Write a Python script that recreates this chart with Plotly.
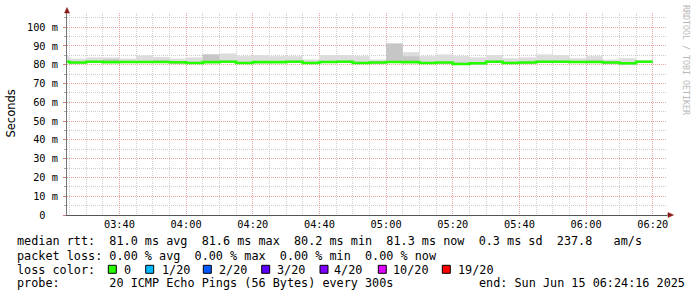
import plotly.graph_objects as go
import pandas as pd

# ---------------- data ----------------
interval_starts = pd.date_range("2025-06-15 03:20:00", periods=36, freq="5min")
data_end = "2025-06-15 06:20:00"
view_start = "2025-06-15 03:24:16"
view_end = "2025-06-15 06:24:16"

median_ms = [81.6, 81.2, 81.6, 81.4, 81.5, 81.5, 81.5, 81.3, 80.9, 81.4,
             81.6, 80.9, 81.4, 81.4, 81.6, 80.9, 81.5, 81.6, 80.9, 81.2,
             81.5, 81.4, 80.9, 81.2, 80.4, 80.8, 81.6, 80.9, 81.2, 81.6,
             81.6, 81.5, 81.5, 81.2, 80.8, 81.6]
smoke_lo_ms = [81.2, 80.8, 81.2, 81.0, 81.1, 81.1, 81.1, 80.9, 80.5, 81.0,
               81.2, 80.5, 81.0, 81.0, 81.2, 80.5, 81.1, 81.2, 80.5, 80.8,
               81.1, 81.0, 80.5, 80.8, 80.0, 80.4, 81.2, 80.5, 80.8, 81.2,
               81.2, 81.1, 81.1, 80.8, 80.4, 81.2]
smoke_hi_ms = [84.5, 83.3, 83.9, 83.9, 83.3, 84.9, 84.2, 83.3, 83.9, 85.5,
               86.0, 84.6, 85.1, 84.6, 84.6, 82.8, 85.1, 85.1, 84.6, 82.8,
               91.3, 86.7, 84.6, 85.5, 84.6, 83.9, 85.1, 83.5, 83.9, 85.5,
               85.1, 83.5, 84.6, 82.8, 83.5, 82.3]
smoke_dark_ms = [82.2, 81.8, 82.2, 83.0, 82.1, 82.1, 82.6, 81.9, 81.6, 85.5,
                 82.5, 81.6, 82.0, 82.0, 82.3, 81.6, 82.1, 82.3, 81.6, 81.8,
                 91.3, 84.5, 81.6, 81.8, 81.2, 81.4, 82.3, 81.6, 81.8, 82.3,
                 82.3, 82.1, 82.6, 81.8, 81.4, 82.2]

y_tick_vals = [0, 10, 20, 30, 40, 50, 60, 70, 80, 90, 100]
y_tick_text = ["0\u00a0\u00a0", "10 m", "20 m", "30 m", "40 m", "50 m",
               "60 m", "70 m", "80 m", "90 m", "100 m"]

stat_line1 = "median rtt:  81.0 ms avg  81.6 ms max  80.2 ms min  81.3 ms now  0.3 ms sd  237.8   am/s"
stat_line2 = "packet loss: 0.00 % avg  0.00 % max  0.00 % min  0.00 % now"
loss_title = "loss color:"
loss_labels = ["0", "1/20", "2/20", "3/20", "4/20", "10/20", "19/20"]
loss_colors = ["#26ff00", "#00b8ff", "#0059ff", "#5e00ff", "#7e00ff", "#dd00ff", "#ff0000"]
probe_text = "probe:       20 ICMP Echo Pings (56 Bytes) every 300s"
end_text = "end: Sun Jun 15 06:24:16 2025"
watermark = "RRDTOOL / TOBI OETIKER"
y_title = "Seconds"

# ---------------- layout geometry (pixels) ----------------
W, H = 697, 297
L, R, T, B = 67, 30, 13, 82
PW, PH = W - L - R, H - T - B

def xp(px):
    return (px - L) / PW

def yp(py):
    return (H - B - py) / PH

MONO = "DejaVu Sans Mono"
SANS = "DejaVu Sans"

fig = go.Figure()

fig.add_trace(go.Bar(
    x=interval_starts, base=smoke_lo_ms,
    y=[h - l for h, l in zip(smoke_hi_ms, smoke_lo_ms)],
    width=300000, offset=0, marker=dict(color="#dcdcdc", line=dict(width=0)),
    hoverinfo="skip"))
fig.add_trace(go.Bar(
    x=interval_starts, base=smoke_lo_ms,
    y=[h - l for h, l in zip(smoke_dark_ms, smoke_lo_ms)],
    width=300000, offset=0, marker=dict(color="#c6c6c6", line=dict(width=0)),
    hoverinfo="skip"))
fig.add_trace(go.Scatter(
    x=list(interval_starts) + [pd.Timestamp(data_end)],
    y=median_ms + [median_ms[-1]],
    mode="lines", line=dict(color="#26ff00", width=2.6, shape="hv"),
    hoverinfo="skip"))

minor_grid = "#cdcdcd"
major_grid = "#e8a4a4"
DOT = "1px,1px"

fig.update_layout(
    width=W, height=H, margin=dict(l=L, r=R, t=T, b=B, pad=0),
    paper_bgcolor="white", plot_bgcolor="white",
    showlegend=False, barmode="overlay",
    xaxis=dict(type="date", range=[view_start, view_end],
               tick0="2025-06-15 03:40:00", dtick=1200000, tickformat="%H:%M",
               showgrid=True, gridcolor=major_grid, griddash=DOT, gridwidth=1,
               minor=dict(tick0="2025-06-15 03:40:00", dtick=300000, showgrid=True,
                          gridcolor=minor_grid, griddash=DOT, gridwidth=1),
               showline=True, linecolor="#555555", linewidth=1,
               ticks="", tickfont=dict(family=MONO, size=10.3, color="#000"),
               zeroline=False, fixedrange=True),
    yaxis=dict(range=[0, PH / 1.878], tickvals=y_tick_vals, ticktext=y_tick_text,
               showgrid=True, gridcolor=major_grid, griddash=DOT, gridwidth=1,
               minor=dict(dtick=5, showgrid=True, gridcolor=minor_grid,
                          griddash=DOT, gridwidth=1, ticks="outside",
                          ticklen=2, tickcolor="#aaa"),
               showline=True, linecolor="#777777", linewidth=1,
               ticks="outside", ticklen=3, tickcolor="#d08080",
               ticklabelstandoff=3,
               tickfont=dict(family=MONO, size=10.3, color="#000"),
               zeroline=False, fixedrange=True),
)

ann = []
ann.append(dict(text=y_title, x=xp(10.5), y=yp(114), textangle=-90,
                xanchor="center", yanchor="middle",
                font=dict(family=SANS, size=11.5, color="#000")))
ann.append(dict(text=watermark, x=xp(686), y=yp(60), textangle=90,
                xanchor="center", yanchor="middle",
                font=dict(family=MONO, size=8.3, color="#b8b8b8")))

def add_text(txt, px, py, size=11.8):
    ann.append(dict(text=txt.replace(" ", "\u00a0"), x=xp(px), y=yp(py),
                    xanchor="left", yanchor="middle",
                    font=dict(family=MONO, size=size, color="#000")))

add_text(stat_line1, 15, 241.5)
add_text(stat_line2, 15, 255.5)
add_text(loss_title, 15, 269.5)
add_text(probe_text, 15, 283)
add_text(end_text, 477, 283)

label_px = [123.3, 160.7, 218.3, 276.0, 333.3, 391.7, 457.3]
box_px = [108.3, 145.7, 203.3, 261.7, 320.0, 378.3, 442.3]
shapes = []
for lab, lx, bx, col in zip(loss_labels, label_px, box_px, loss_colors):
    add_text(lab, lx - 1, 269.5)
    shapes.append(dict(type="rect", xref="paper", yref="paper",
                       x0=xp(bx), x1=xp(bx + 8), y0=yp(273.3), y1=yp(265.3),
                       fillcolor=col, line=dict(color="#000", width=1)))

for a in ann:
    a.setdefault("xref", "paper")
    a.setdefault("yref", "paper")
    a.setdefault("showarrow", False)

# axis extension + arrows
shapes.append(dict(type="line", xref="paper", yref="paper", x0=1, x1=xp(669),
                   y0=0, y1=0, line=dict(color="#555555", width=1)))
shapes.append(dict(type="path", xref="paper", yref="paper",
                   path=f"M {xp(668)} {yp(212.5)} L {xp(673.5)} {yp(215)} L {xp(668)} {yp(217.5)} Z",
                   fillcolor="#8b1a1a", line=dict(color="#8b1a1a", width=0.5)))
shapes.append(dict(type="path", xref="paper", yref="paper",
                   path=f"M {xp(64.5)} {yp(13)} L {xp(67)} {yp(7.5)} L {xp(69.5)} {yp(13)} Z",
                   fillcolor="#8b1a1a", line=dict(color="#8b1a1a", width=0.5)))

fig.update_layout(annotations=ann, shapes=shapes)
fig.write_html("out.html")
